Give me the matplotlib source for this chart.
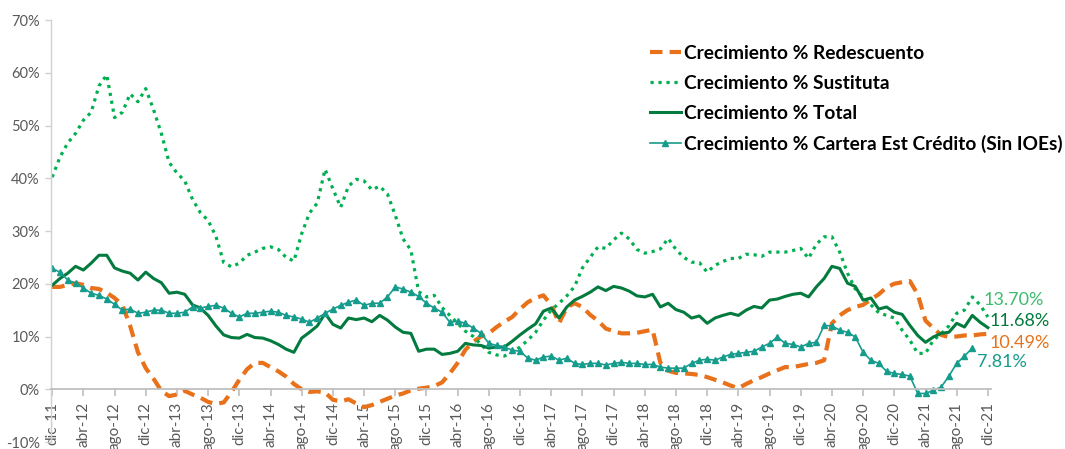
import numpy as np
import matplotlib
matplotlib.use('Agg')
import matplotlib.pyplot as plt

plt.rcParams['font.family'] = ['Lato', 'DejaVu Sans']

# Data: monthly growth (%) from dic-11 to dic-21
redescuento = [19.4, 19.4, 19.8, 20.1, 19.8, 19.2, 19.0, 18.3, 17.3, 16.0,
               12.0, 7.0, 4.0, 2.0, -0.3, -1.3, -1.0, -0.3, -1.0, -1.6,
               -2.4, -2.8, -2.5, -0.5, 1.8, 3.8, 5.0, 5.0, 4.2, 3.4,
               2.4, 1.0, 0.0, -0.5, -0.4, -0.6, -2.0, -2.3, -1.9, -2.7,
               -3.4, -3.0, -2.4, -1.8, -1.2, -0.8, -0.2, 0.1, 0.3, 0.6,
               1.3, 3.0, 5.0, 7.5, 9.0, 10.0, 10.6, 11.8, 12.8, 13.7,
               15.2, 16.5, 17.3, 17.8, 16.0, 12.5, 15.5, 16.3, 15.6, 14.1,
               13.0, 11.5, 11.0, 10.6, 10.6, 10.7, 11.0, 11.3, 5.0, 3.5,
               3.1, 3.0, 2.9, 2.7, 2.3, 1.8, 1.3, 0.7, 0.2, 1.0,
               1.7, 2.3, 3.0, 3.6, 4.2, 4.2, 4.5, 4.8, 5.0, 5.5,
               12.5, 14.0, 15.0, 15.6, 16.0, 17.0, 18.0, 19.3, 20.0, 20.3,
               20.5, 18.0, 13.0, 11.6, 10.3, 9.9, 10.0, 10.2, 10.2, 10.4,
               10.49]

sustituta = [40.2, 44.0, 46.7, 48.5, 51.0, 52.5, 57.5, 59.6, 51.5, 52.5,
             56.0, 54.5, 57.0, 53.0, 48.5, 43.0, 41.0, 39.5, 36.0, 33.5,
             32.0, 29.0, 24.0, 23.2, 23.9, 25.4, 26.0, 26.7, 27.0, 26.5,
             25.0, 24.3, 29.5, 33.4, 35.3, 41.7, 38.0, 34.5, 38.5, 39.8,
             39.5, 37.8, 38.5, 37.0, 33.0, 28.5, 26.4, 18.5, 17.5, 17.8,
             15.5, 14.0, 12.5, 11.0, 10.0, 8.5, 7.0, 6.5, 6.3, 7.0,
             8.0, 9.3, 10.8, 13.1, 15.0, 16.3, 17.7, 19.5, 23.0, 25.0,
             27.0, 26.7, 28.3, 29.6, 28.5, 26.5, 25.8, 26.1, 26.6, 28.6,
             26.5, 25.0, 24.1, 24.0, 22.2, 23.5, 24.2, 24.8, 24.8, 25.6,
             25.5, 25.2, 26.0, 26.0, 26.0, 26.3, 26.7, 24.8, 27.5, 28.9,
             28.9, 26.0, 22.0, 19.0, 17.5, 16.0, 14.5, 14.0, 13.5, 11.2,
             9.3, 6.8, 6.8, 9.3, 10.5, 12.0, 14.4, 15.0, 17.5, 16.0,
             13.7]

total = [19.7, 21.0, 22.0, 23.3, 22.6, 23.9, 25.4, 25.4, 23.0, 22.4,
         22.0, 20.7, 22.2, 21.0, 20.2, 18.2, 18.4, 18.0, 16.0, 15.4,
         14.0, 12.0, 10.3, 9.8, 9.7, 10.4, 9.8, 9.7, 9.2, 8.5,
         7.6, 7.0, 9.7, 10.8, 12.0, 14.4, 12.3, 11.6, 13.5, 13.2,
         13.5, 12.8, 14.0, 13.1, 11.8, 10.8, 10.6, 7.2, 7.6, 7.6,
         6.6, 6.8, 7.2, 8.7, 8.4, 8.3, 7.8, 8.0, 8.0, 9.1,
         10.3, 11.4, 12.4, 14.8, 15.4, 13.5, 15.6, 16.9, 17.6, 18.4,
         19.4, 18.7, 19.5, 19.2, 18.6, 17.7, 17.5, 18.0, 15.6, 16.3,
         15.1, 14.6, 13.5, 13.9, 12.5, 13.5, 14.0, 14.4, 14.0, 15.0,
         15.7, 15.4, 16.9, 17.1, 17.6, 18.0, 18.2, 17.5, 19.4, 21.0,
         23.3, 22.9, 20.1, 19.5, 16.9, 17.3, 15.2, 15.6, 14.6, 14.2,
         12.1, 10.2, 8.9, 9.9, 10.6, 10.8, 12.5, 11.8, 14.0, 12.7,
         11.68]

cartera = [22.9, 22.2, 20.7, 20.1, 19.2, 18.2, 17.8, 17.1, 16.1, 15.0,
           15.2, 14.4, 14.6, 15.0, 15.0, 14.4, 14.4, 14.6, 15.6, 15.4,
           15.7, 15.9, 15.4, 14.4, 13.7, 14.4, 14.4, 14.6, 14.8, 14.6,
           14.0, 13.7, 13.3, 12.7, 13.5, 14.4, 15.2, 15.9, 16.5, 16.9,
           15.9, 16.3, 16.3, 17.5, 19.4, 19.0, 18.4, 17.6, 16.3, 15.4,
           14.6, 12.7, 12.9, 12.5, 11.6, 10.6, 8.7, 8.3, 8.0, 7.4,
           7.2, 5.9, 5.5, 6.1, 6.3, 5.5, 5.9, 4.9, 4.7, 4.9,
           4.9, 4.6, 4.9, 5.1, 4.9, 4.9, 4.7, 4.7, 4.2, 4.0,
           4.0, 4.0, 4.9, 5.5, 5.7, 5.5, 6.1, 6.6, 6.8, 7.0,
           7.2, 8.0, 8.7, 9.9, 8.7, 8.5, 8.0, 8.7, 8.9, 12.1,
           12.0, 11.2, 10.8, 9.9, 7.0, 5.5, 4.9, 3.4, 3.0, 2.8,
           2.5, -0.8, -0.8, -0.2, 0.4, 2.5, 4.9, 6.3, 7.81]

# x tick labels every 4 months
tick_labels = ['dic-11'] + [f'{m}-{y}' for y in range(12, 22) for m in ['abr', 'ago', 'dic']]
end_labels = ['13.70%', '11.68%', '10.49%', '7.81%']

C_RED = '#E8711A'
C_SUS = '#00B050'
C_TOT = '#037A3E'
C_CAR = '#169C8C'

x_full = np.arange(len(total))
x_car = np.arange(len(cartera))

fig = plt.figure(figsize=(10.65, 4.49), dpi=100)
ax = fig.add_axes([51 / 1065, 7 / 449, 940 / 1065, 422 / 449])

ax.plot(x_full, redescuento, color=C_RED, lw=3.0, dashes=(3, 1.7),
        label='Crecimiento % Redescuento')
ax.plot(x_full, sustituta, color=C_SUS, lw=2.3, dashes=(1, 1.5),
        label='Crecimiento % Sustituta')
ax.plot(x_full, total, color=C_TOT, lw=2.2, label='Crecimiento % Total')
ax.plot(x_car, cartera, color=C_CAR, lw=1.2, marker='^', markersize=4.5,
        label='Crecimiento % Cartera Est Crédito (Sin IOEs)')

# spine position first (it resets the ticks)
for s in ['top', 'right']:
    ax.spines[s].set_visible(False)
ax.spines['bottom'].set_position(('data', 0))
ax.spines['bottom'].set_color('#BFBFBF')
ax.spines['bottom'].set_linewidth(1.3)
ax.spines['left'].set_color('#D0D0D0')
ax.spines['left'].set_linewidth(1.0)

ax.set_xlim(-0.15, 120.4)
ax.set_ylim(-10, 70)
ax.set_yticks(np.arange(-10, 71, 10))
ax.set_yticklabels([f'{v}%' for v in range(-10, 71, 10)])
ax.set_xticks(np.arange(0, 121, 4))
ax.set_xticklabels(tick_labels, rotation=90, va='top', ha='center')

ax.tick_params(axis='x', colors='#BFBFBF', labelcolor='#595959', length=5,
               width=1.2, labelsize=11, pad=4)
ax.tick_params(axis='y', colors='#D0D0D0', labelcolor='#595959', length=4,
               width=1.0, labelsize=10.5, pad=4)

# end-of-series labels
ax.annotate(end_labels[0], (120, 13.7), xytext=(119.4, 16.9), color='#3DBB6E',
            fontsize=13, va='center', ha='left', annotation_clip=False)
ax.annotate(end_labels[1], (120, 11.68), xytext=(120.2, 13.0), color=C_TOT,
            fontsize=13, va='center', ha='left', annotation_clip=False)
ax.annotate(end_labels[2], (120, 10.49), xytext=(120.2, 8.7), color=C_RED,
            fontsize=13, va='center', ha='left', annotation_clip=False)
ax.annotate(end_labels[3], (118, 7.81), xytext=(118.6, 5.2), color=C_CAR,
            fontsize=13, va='center', ha='left', annotation_clip=False)

fig.legend(loc='upper left', bbox_to_anchor=(650 / 1065, 1 - 45 / 449),
           frameon=False, prop={'weight': 'bold', 'size': 13.8},
           handlelength=1.6, handletextpad=0.15, labelspacing=0.68,
           borderpad=0, borderaxespad=0)

fig.savefig('out.png', dpi=100)
